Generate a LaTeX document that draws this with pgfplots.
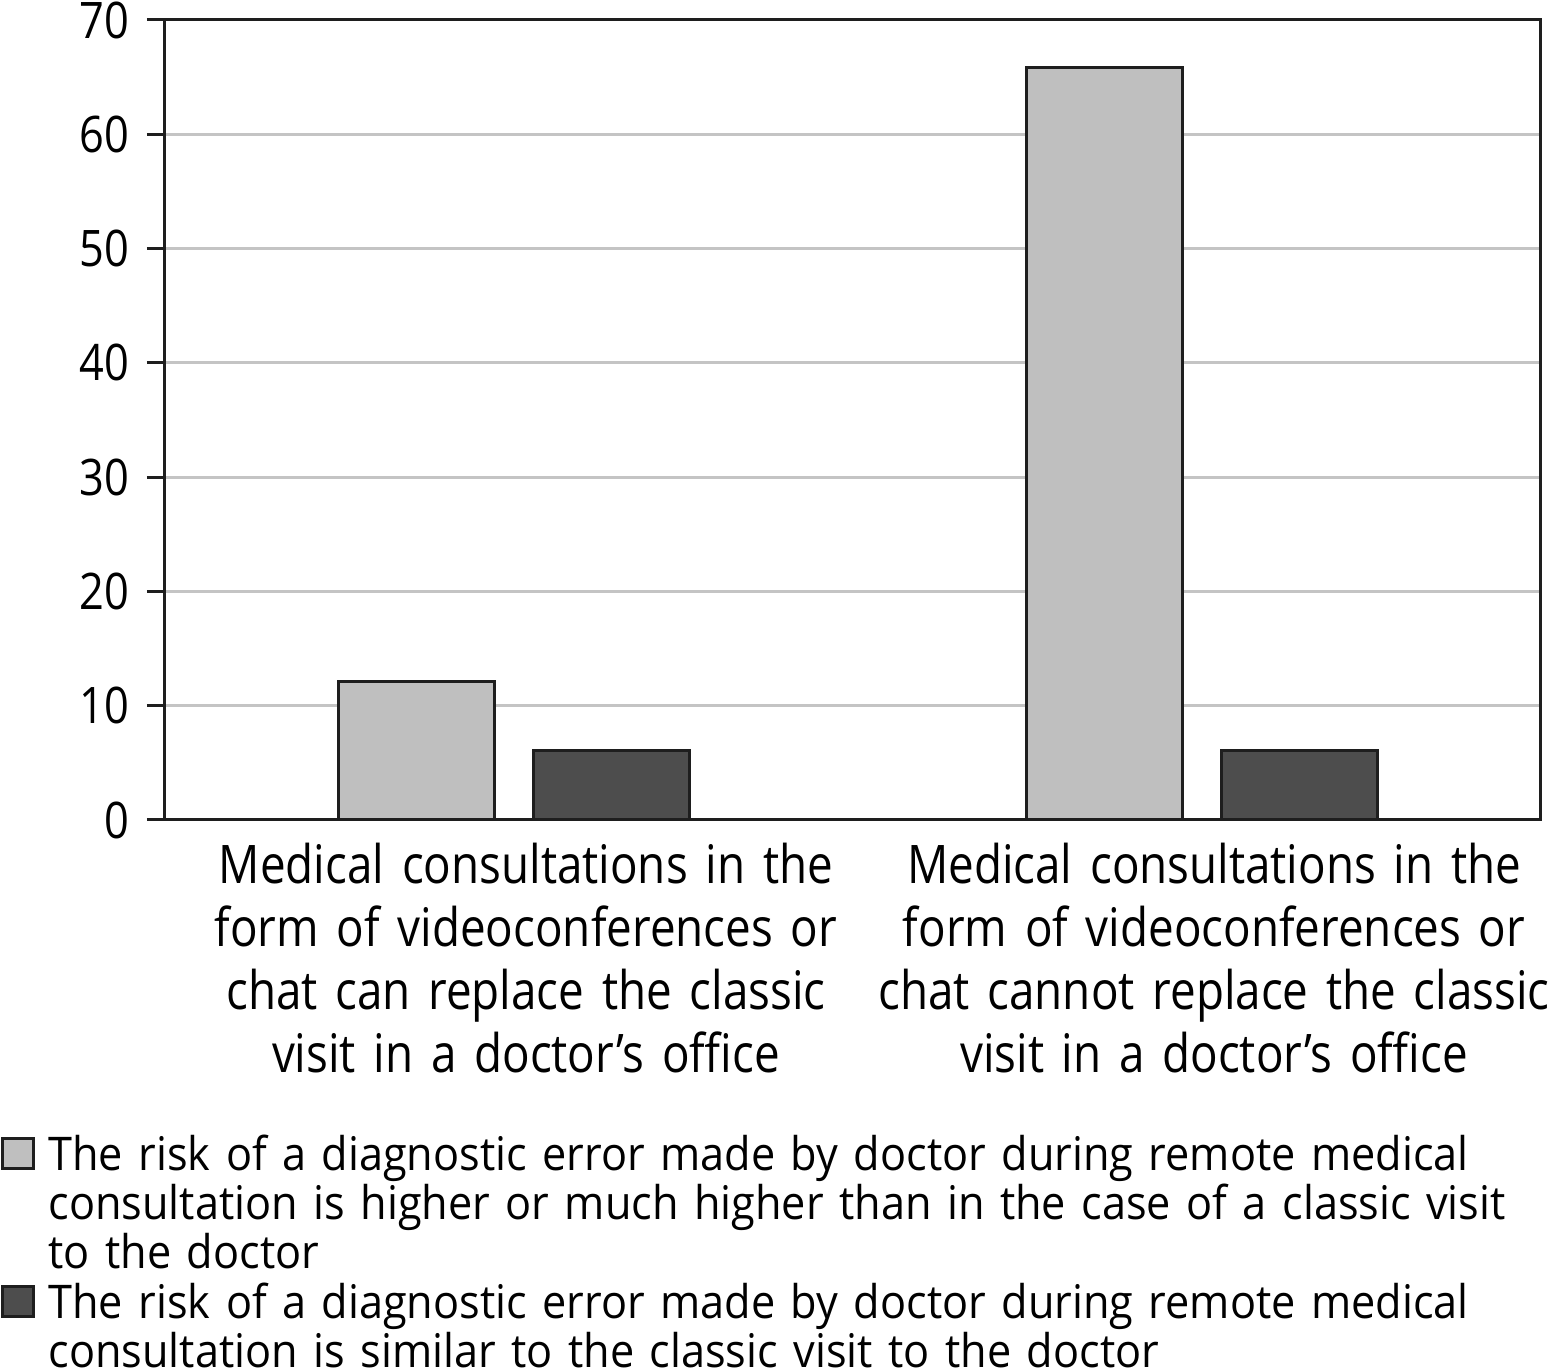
\documentclass[border=0pt]{standalone}
\usepackage{pgfplots}
\pgfplotsset{compat=1.18}
\usepackage{fontspec}
\setmainfont{Open Sans}[FakeStretch=0.86]
\newfontfamily\legfont{Open Sans}[FakeStretch=0.932]

\definecolor{barlight}{HTML}{BFBFBF}
\definecolor{bardark}{HTML}{4D4D4D}
\definecolor{baredge}{HTML}{1E1E1E}
\definecolor{gridgray}{HTML}{C4C4C4}

\begin{document}
\begin{tikzpicture}
\begin{axis}[
    scale only axis,
    width=343.75pt,
    height=200pt,
    ymin=0, ymax=70,
    ytick={0,10,...,70},
    xmin=-0.507, xmax=1.491,
    xtick={0,1},
    xticklabels={
        {Medical consultations in the\\form of videoconferences or\\chat can replace the classic\\visit in a doctor’s office},
        {Medical consultations in the\\form of videoconferences or\\chat cannot replace the classic\\visit in a doctor’s office}},
    ybar,
    bar width=0.227,
    axis line style={line width=0.75pt, baredge},
    ymajorgrids,
    grid style={line width=0.75pt, gridgray},
    tick align=outside,
    major tick length=4.5pt,
    ytick pos=left,
    xtick pos=bottom,
    xtick style={draw=none},
    ytick style={line width=0.75pt, baredge},
    /pgf/number format/assume math mode=true,
    yticklabel style={font=\fontsize{12.6}{12.6}\selectfont, inner sep=0pt, anchor=east, xshift=-4.25pt},
    xticklabel style={font=\fontsize{13.3}{15.75}\selectfont, text width=180pt, align=center,
        anchor=base, inner sep=0pt, xshift=3pt, yshift=-11.5pt},
    legend style={draw=none, fill=none, inner sep=0pt, row sep=3.25pt, column sep=3.25pt,
        at={(-0.1195,-0.3925)}, anchor=north west,
        font=\legfont\fontsize{11.6}{12.25}\selectfont,
        nodes={inner sep=0pt, text depth=, text height=9pt, text width=380pt, align=left},
        cells={anchor=base west}},
    legend image code/.code={\draw[#1, line width=0.75pt] (0pt,0.5pt) rectangle (7.75pt,8pt);},
]

% light series
\addplot[fill=barlight, draw=baredge, line width=0.75pt, bar shift=-0.142] coordinates {
    (0, 12.1)
    (1, 65.8)
};
\addlegendentry{The risk of a diagnostic error made by doctor during remote medical\\consultation is higher or much higher than in the case of a classic visit\\to the doctor}

% dark series
\addplot[fill=bardark, draw=baredge, line width=0.75pt, bar shift=0.142] coordinates {
    (0, 6.1)
    (1, 6.1)
};
\addlegendentry{The risk of a diagnostic error made by doctor during remote medical\\consultation is similar to the classic visit to the doctor}

\coordinate (bbA) at (rel axis cs:-0.12,1.025);
\coordinate (bbB) at (rel axis cs:1.00727,-0.68625);
\end{axis}
\pgfresetboundingbox
\path[use as bounding box] (bbA) rectangle (bbB);
\end{tikzpicture}
\end{document}
